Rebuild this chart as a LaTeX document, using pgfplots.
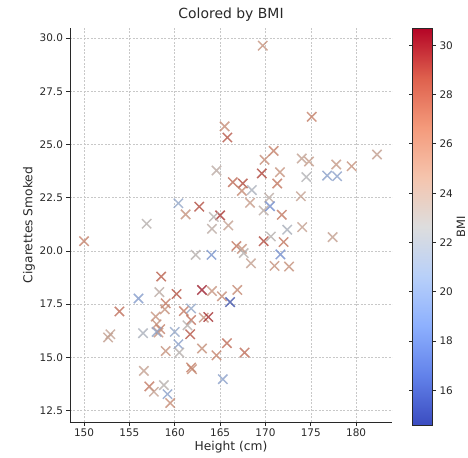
\documentclass[border=0pt]{standalone}
\usepackage{fontspec}
\setmainfont{DejaVu Sans}
\usepackage{pgfplots}
\usepackage{pgfplotstable}
\pgfplotsset{compat=1.18}

% matplotlib coolwarm
\pgfplotsset{
  colormap={coolwarm}{
    rgb255=(59,76,192) rgb255=(98,130,234) rgb255=(141,176,254)
    rgb255=(184,208,249) rgb255=(221,221,221) rgb255=(245,196,173)
    rgb255=(244,154,123) rgb255=(222,96,77) rgb255=(180,4,38)
  }
}
\definecolor{txt}{RGB}{40,40,40}
\definecolor{gridc}{RGB}{200,200,200}

% height, cigarettes, bmi
\pgfplotstableread{
h c bmi
169.7 29.64 25.5
175.1 26.30 26.5
165.5 25.85 25.8
165.8 25.33 28.5
170.9 24.70 26.5
169.9 24.28 25.8
174.0 24.34 24.3
174.8 24.20 24.7
182.3 24.53 24.5
177.8 24.06 25.0
179.5 23.98 25.5
164.6 23.78 23.5
166.4 23.23 27.5
167.5 23.17 28.8
167.4 22.82 26.0
168.5 22.86 22.0
168.3 22.26 25.0
169.6 23.64 29.0
171.6 23.70 25.5
171.3 23.17 27.0
174.5 23.47 22.5
176.8 23.54 20.0
177.9 23.51 20.0
173.9 22.57 24.5
170.4 22.50 23.5
170.5 22.10 18.5
169.8 21.90 23.5
171.8 21.70 27.0
162.7 22.08 28.8
165.0 21.67 29.3
164.3 21.60 23.0
164.1 21.04 23.5
165.9 21.20 24.5
160.4 22.24 20.5
161.2 21.72 25.5
156.9 21.28 23.0
172.4 21.00 22.0
174.05 21.12 24.5
169.8 20.46 28.8
170.6 20.68 23.0
172.0 20.42 27.0
177.4 20.65 24.5
166.8 20.23 27.0
167.4 20.10 25.5
167.6 19.90 23.0
168.4 19.42 24.5
171.65 19.84 18.5
171.0 19.30 25.5
172.6 19.27 25.5
150.0 20.46 26.5
162.3 19.82 23.0
164.05 19.82 19.0
158.5 18.80 28.0
158.3 18.07 23.5
156.0 17.77 19.5
160.2 17.98 28.5
163.0 18.17 30.2
164.1 18.12 25.5
165.2 17.87 25.8
166.9 18.17 26.0
166.1 17.60 15.3
153.9 17.16 27.5
159.0 17.54 27.0
158.9 17.26 25.5
157.9 16.92 25.5
161.0 17.18 27.0
161.8 17.30 20.5
161.8 16.76 27.5
161.4 16.51 23.0
163.2 16.87 25.5
163.7 16.90 29.5
158.0 16.56 25.5
158.4 16.33 26.5
158.2 16.17 25.5
158.0 16.20 20.5
156.5 16.14 22.0
160.0 16.20 20.5
160.4 15.62 20.0
161.7 16.09 28.5
160.5 15.23 23.0
159.0 15.30 25.5
163.0 15.42 25.5
164.6 15.10 26.5
165.75 15.67 27.5
167.7 15.23 27.5
152.65 15.94 24.5
152.9 16.09 24.3
161.8 14.53 26.5
161.9 14.45 26.0
156.6 14.37 24.5
157.2 13.64 27.0
157.7 13.39 24.5
158.8 13.70 23.0
159.2 13.28 20.0
159.5 12.86 26.0
165.3 13.98 20.0
}\smokers

\begin{document}
\begin{tikzpicture}
\begin{axis}[
  name=main,
  scale only axis,
  width=322bp, height=394bp,
  xmin=148.45, xmax=183.95,
  ymin=11.97, ymax=30.47,
  xtick={150,155,...,180},
  ytick={12.5,15,...,30},
  yticklabel style={/pgf/number format/.cd, fixed, fixed zerofill, precision=1},
  /pgf/number format/assume math mode=true,
  tick label style={font=\fontsize{10.5}{12}\selectfont, text=txt},
  label style={font=\fontsize{12.3}{14}\selectfont, text=txt},
  xlabel style={yshift=3bp},
  ylabel style={yshift=-2bp},
  title style={font=\fontsize{14}{16}\selectfont, text=txt, yshift=-3bp},
  title={Colored by BMI},
  xlabel={Height (cm)},
  ylabel={Cigarettes Smoked},
  axis x line*=bottom, axis y line*=left,
  axis line style={draw=txt, line width=0.8bp},
  tick style={draw=txt, line width=0.8bp},
  tick align=outside, major tick length=3.5bp,
  grid=major,
  major grid style={gridc, line width=0.6bp, dash pattern=on 2bp off 1.5bp},
  colormap name=coolwarm,
  point meta min=14.6, point meta max=30.7,
  colorbar,
  colorbar/width=20bp,
  colorbar style={
    at={(parent axis.north east)}, anchor=north west, xshift=12bp,
    scale only axis,
    width=20bp, height=397bp,
    ytick={16,18,...,30},
    ylabel={BMI}, ylabel near ticks,
    ylabel style={font=\fontsize{11.5}{13}\selectfont, text=txt, yshift=3bp},
    yticklabel pos=right,
    tick label style={font=\fontsize{10.5}{12}\selectfont, text=txt},
    /pgf/number format/assume math mode=true,
    axis line style={draw=txt, line width=0.6bp},
    tick style={draw=txt, line width=0.8bp},
    tick align=outside, major tick length=3.5bp,
  },
]
\addplot[
  scatter, only marks, mark=x, mark size=6.6bp,
  scatter src=explicit,
  mark options={line width=1.5bp, opacity=0.78},
] table[x=h, y=c, meta=bmi] {\smokers};
\end{axis}
\pgfresetboundingbox
\path (main.south west) ++(-70bp,-36bp) rectangle ++(468bp,458bp);
\end{tikzpicture}
\end{document}
